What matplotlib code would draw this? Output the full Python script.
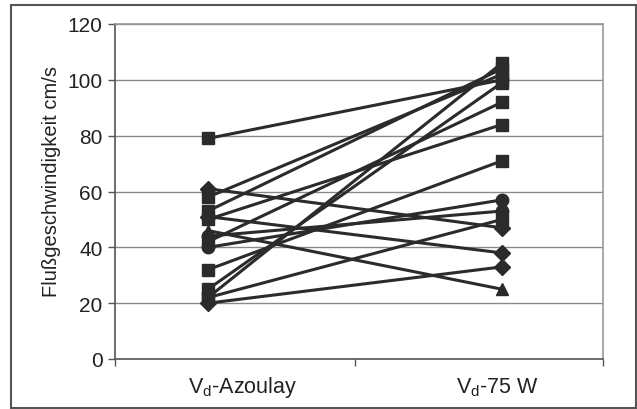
import matplotlib
matplotlib.use("Agg")
import matplotlib.pyplot as plt
from matplotlib.patches import Rectangle

plt.rcParams["font.family"] = ["Liberation Sans", "DejaVu Sans"]
plt.rcParams["mathtext.fontset"] = "custom"
plt.rcParams["mathtext.rm"] = "Liberation Sans"
plt.rcParams["mathtext.it"] = "Liberation Sans"

categories = [r"V$_\mathrm{d}$-Azoulay", r"V$_\mathrm{d}$-75 W"]
azoulay = [79, 22, 25, 32, 53, 58, 42, 50, 40, 44, 22, 61, 51, 20, 46]
w75 = [100, 106, 99, 71, 104, 102, 92, 84, 57, 53, 50, 47, 38, 33, 25]
markers = ["s", "s", "s", "s", "s", "s", "s", "s", "o", "o", "s", "D", "D", "D", "^"]
yticks = [0, 20, 40, 60, 80, 100, 120]

INK = "#2b2b2b"
GRID = "#8a8a8a"

W, H = 637, 410
fig = plt.figure(figsize=(W / 100, H / 100), dpi=100)
ax = fig.add_axes([115 / W, 1 - 360 / H, (603 - 115) / W, (360 - 25) / H])

for a, b, m in zip(azoulay, w75, markers):
    ms = 8 if m == "D" else 9
    ax.plot([0, 1], [a, b], color=INK, lw=2.2, marker=m, ms=ms,
            mfc=INK, mec=INK, zorder=3, solid_capstyle="butt")

ax.set_ylim(0, 120)
ax.set_xlim(-(208 - 115) / 294, 1 + (603 - 502) / 294)
ax.set_yticks(yticks)
ax.yaxis.grid(True, color=GRID, lw=1.0)
ax.set_axisbelow(True)
ax.tick_params(axis="y", direction="out", length=5, width=1, color="#555555",
               labelsize=15, pad=4, labelcolor="#222222")

# category axis: ticks between categories, labels set as text
ax.set_xticks([ax.get_xlim()[0], 0.5, ax.get_xlim()[1]])
ax.set_xticklabels(["", "", ""])
ax.tick_params(axis="x", direction="out", length=5, width=1, color="#555555")
label_x = [0.116, 0.983]
for lx, lab in zip(label_x, categories):
    ax.text(lx, -0.083, lab, transform=ax.get_xaxis_transform(),
            ha="center", va="center", fontsize=15.5, color="#222222")

for side in ("left", "bottom"):
    ax.spines[side].set_color("#555555")
    ax.spines[side].set_linewidth(1.2)
for side in ("top", "right"):
    ax.spines[side].set_color("#999999")
    ax.spines[side].set_linewidth(1.2)

fig.text(52 / W, 1 - 182 / H, "Flußgeschwindigkeit cm/s", rotation=90,
         ha="center", va="center", fontsize=14.5, color="#222222")

fig.add_artist(Rectangle((11 / W, 1 - 409 / H), (636 - 11) / W, (409 - 6) / H,
                         transform=fig.transFigure, fill=False,
                         edgecolor="#555555", lw=1.5))

fig.savefig("out.png", dpi=100, facecolor="white")
